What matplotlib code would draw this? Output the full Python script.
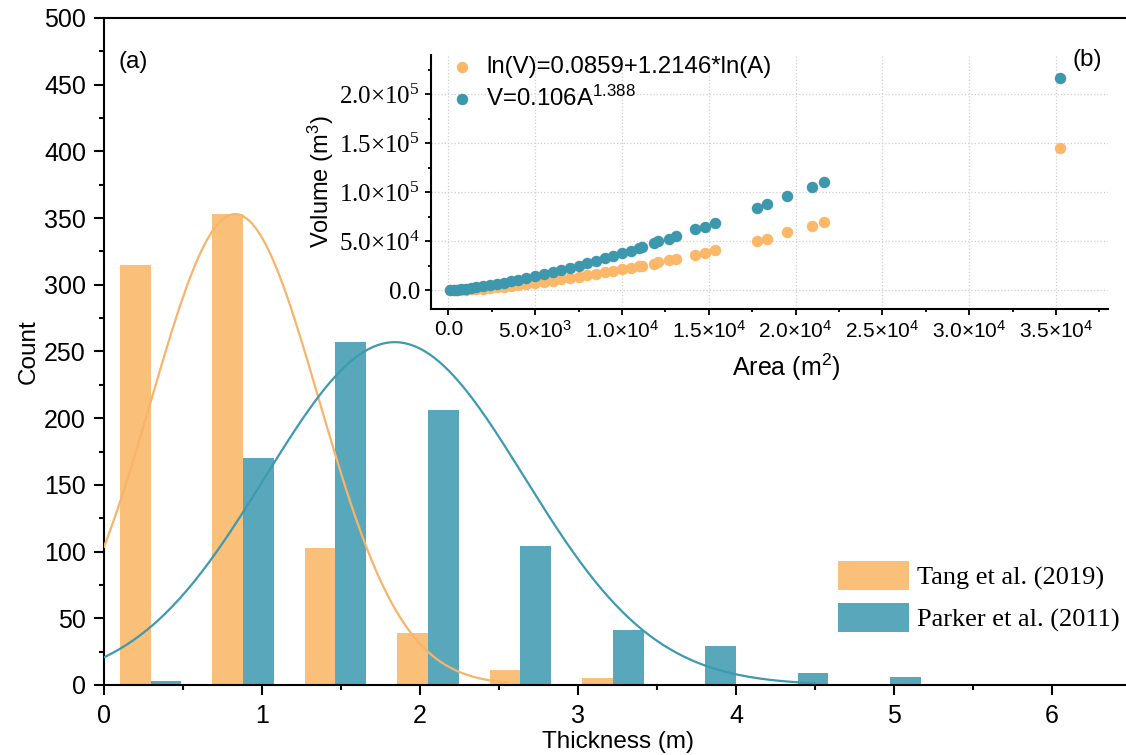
import numpy as np
import matplotlib.pyplot as plt
from matplotlib.ticker import FixedLocator, FixedFormatter, MultipleLocator

plt.rcParams['font.family'] = ['Liberation Sans', 'DejaVu Sans']

# ---- histogram data (a) ----
pair_centers = [0.295, 0.88, 1.465, 2.05, 2.635, 3.22, 3.805, 4.39, 4.975, 5.56, 6.145]
tang_counts = [315, 353, 103, 39, 11, 5, 1, 0, 0, 0, 0]
parker_counts = [3, 170, 257, 206, 104, 41, 29, 9, 6, 0, 1]
bar_w = 0.195

# normal fits (amplitude, mean, sigma, x-range end)
tang_fit = (353, 0.83, 0.53, 2.55)
parker_fit = (257, 1.84, 0.82, 4.5)

# ---- area / volume scatter (b) ----
area = [100, 300, 500, 750, 1000, 1300, 1600, 2000, 2400, 2800, 3200, 3600, 4000,
        4500, 5000, 5500, 6000, 6500, 7000, 7500, 8000, 8500, 9000, 9500, 10000,
        10500, 11000, 11180, 11850, 12050, 12720, 13120, 14200, 14760, 15360,
        17790, 18350, 19520, 20970, 21620, 35260]
vol_parker = [63, 291, 591, 1040, 1550, 2230, 2970, 4050, 5220, 6460, 7770, 9160,
              10590, 12480, 14440, 16480, 18600, 20780, 23030, 25340, 27710, 30130,
              32620, 35190, 37790, 40450, 43130, 43900, 48400, 50000, 52800, 55500,
              62200, 64300, 69100, 84100, 88200, 95900, 105500, 110200, 216700]
vol_tang = [20, 104, 225, 417, 646, 963, 1320, 1860, 2450, 3090, 3790, 4530, 5320,
            6360, 7460, 8630, 9850, 11120, 12450, 13830, 15260, 16730, 18260, 19810,
            21410, 23050, 24740, 25200, 27200, 28600, 30600, 32300, 36400, 38200,
            41200, 50700, 52800, 59200, 66000, 69400, 145300]

inset_xticks = [0, 5000, 10000, 15000, 20000, 25000, 30000, 35000]
inset_xlabels = ['0.0', r'5.0×$\mathregular{10^3}$', r'1.0×$\mathregular{10^4}$',
                 r'1.5×$\mathregular{10^4}$', r'2.0×$\mathregular{10^4}$',
                 r'2.5×$\mathregular{10^4}$', r'3.0×$\mathregular{10^4}$',
                 r'3.5×$\mathregular{10^4}$']
inset_yticks = [0, 50000, 100000, 150000, 200000]
inset_ylabels = ['0.0', r'5.0×$\mathregular{10^4}$', r'1.0×$\mathregular{10^5}$',
                 r'1.5×$\mathregular{10^5}$', r'2.0×$\mathregular{10^5}$']

c_orange = '#FABF78'
c_teal = '#59A7BB'
c_orange_line = '#F8B46A'
c_teal_line = '#3D9AB0'
c_orange_pt = '#FDB768'
c_teal_pt = '#3E98AD'

W, H = 1126, 755
fig = plt.figure(figsize=(W / 100, H / 100), dpi=100)

# main axes, pixel box: x0=104 -> x per unit 158, y0=685, top=18
ax = fig.add_axes([104 / W, 1 - 685 / H, 6.5 * 158 / W, 667 / H])
x_t = np.array(pair_centers)
ax.bar(x_t - bar_w / 2, tang_counts, width=bar_w, color=c_orange,
       label='Tang et al. (2019)', zorder=2)
ax.bar(x_t + bar_w / 2, parker_counts, width=bar_w, color=c_teal,
       label='Parker et al. (2011)', zorder=2)

for (amp, mu, sig, xend), col in [(tang_fit, c_orange_line), (parker_fit, c_teal_line)]:
    xs = np.linspace(0, xend, 300)
    ax.plot(xs, amp * np.exp(-(xs - mu) ** 2 / (2 * sig ** 2)), color=col, lw=1.6, zorder=3)

ax.set_xlim(0, 6.5)
ax.set_ylim(0, 500)
ax.xaxis.set_major_locator(MultipleLocator(1))
ax.xaxis.set_minor_locator(MultipleLocator(0.5))
ax.yaxis.set_major_locator(MultipleLocator(50))
ax.yaxis.set_minor_locator(MultipleLocator(25))
ax.spines['right'].set_visible(False)
for s in ['left', 'bottom', 'top']:
    ax.spines[s].set_linewidth(1.5)
ax.tick_params(which='major', direction='out', length=7, width=1.5, labelsize=18)
ax.tick_params(axis='y', pad=6)
ax.tick_params(axis='x', pad=7)
ax.tick_params(which='minor', direction='out', length=3.5, width=1.5)
ax.tick_params(top=False, which='both')
ax.set_xlabel('Thickness (m)', fontsize=17.5, labelpad=2)
ax.set_ylabel('Count', fontsize=17.5, labelpad=3)
fig.text(118 / W, 1 - 62 / H, '(a)', fontsize=17.5, va='center', ha='left')

ax.legend(loc='upper left', bbox_to_anchor=(838 / W, 1 - 561 / H),
          bbox_transform=fig.transFigure, frameon=False, borderpad=0, borderaxespad=0,
          prop={'family': 'Liberation Serif', 'size': 19},
          handlelength=2.7, handleheight=1.3, handletextpad=0.3, labelspacing=0.5)

# inset
ins = fig.add_axes([431 / W, 1 - 309 / H, (1108 - 431) / W, (309 - 55) / H])
ins.patch.set_alpha(0)
ins.scatter(area, vol_tang, s=68, color=c_orange_pt, lw=0,
            label='ln(V)=0.0859+1.2146*ln(A)', zorder=3)
ins.scatter(area, vol_parker, s=68, color=c_teal_pt, lw=0,
            label=r'V=0.106A$\mathregular{^{1.388}}$', zorder=3)
ins.set_xlim(-1000, 38000)
ins.set_ylim(-19000, 240000)
ins.xaxis.set_major_locator(FixedLocator(inset_xticks))
ins.xaxis.set_major_formatter(FixedFormatter(inset_xlabels))
ins.xaxis.set_minor_locator(MultipleLocator(2500))
ins.yaxis.set_major_locator(FixedLocator(inset_yticks))
ins.yaxis.set_major_formatter(FixedFormatter(inset_ylabels))
ins.yaxis.set_minor_locator(MultipleLocator(25000))
ins.grid(True, which='major', color='#cfcfcf', ls=':', lw=0.9, zorder=0)
ins.spines['top'].set_visible(False)
ins.spines['right'].set_visible(False)
ins.spines['left'].set_linewidth(1.5)
ins.spines['bottom'].set_linewidth(1.5)
ins.tick_params(which='major', direction='out', length=4, width=1.3)
ins.tick_params(which='minor', direction='out', length=2.5, width=1.3)
ins.tick_params(axis='x', labelsize=15, pad=4)
ins.tick_params(axis='y', labelsize=18, pad=4)
for lab in ins.get_yticklabels():
    lab.set_family('Liberation Serif')
ins.set_xlabel(r'Area (m$\mathregular{^2}$)', fontsize=18)
ins.xaxis.set_label_coords((786 - 431) / 677, (309 - 352) / 254)
ins.set_ylabel(r'Volume (m$\mathregular{^3}$)', fontsize=17, labelpad=2)
ins.legend(loc='upper left', bbox_to_anchor=(454 / W, 1 - 56 / H),
           bbox_transform=fig.transFigure, frameon=False, borderpad=0, borderaxespad=0,
           fontsize=17.3, handlelength=0.7, handletextpad=0.65, labelspacing=0.3,
           scatterpoints=1)
fig.text(1073 / W, 1 - 60 / H, '(b)', fontsize=17.5, va='center', ha='left')

fig.savefig('out.png', dpi=100)
